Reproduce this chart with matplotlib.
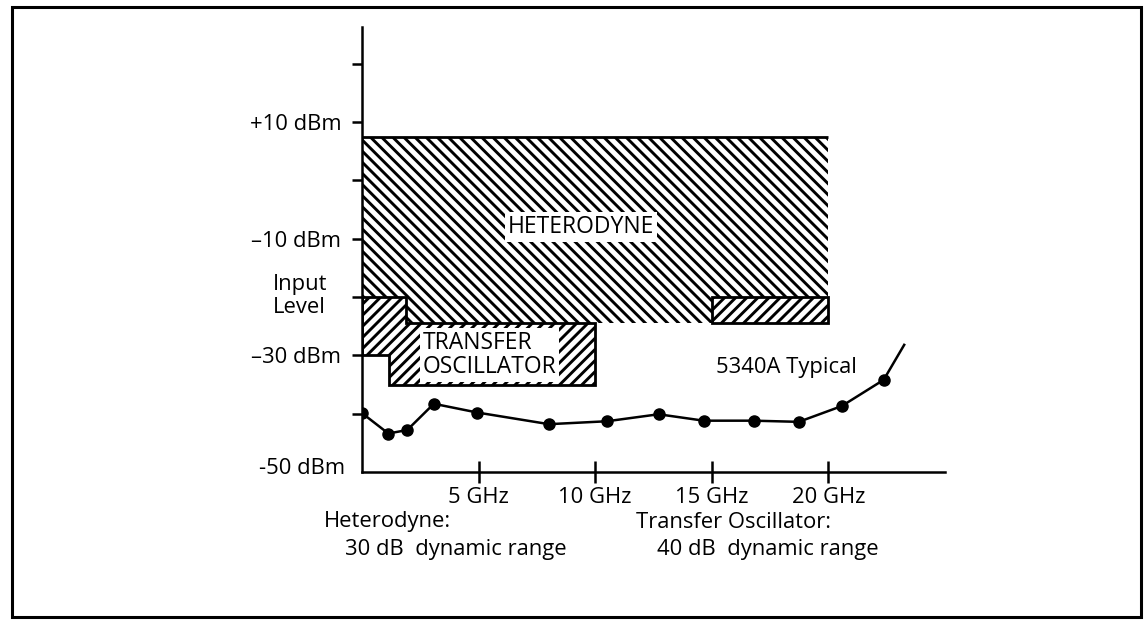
import matplotlib
matplotlib.use('Agg')
import matplotlib.pyplot as plt
from matplotlib.patches import Rectangle

plt.rcParams['font.family'] = ['Open Sans', 'DejaVu Sans']
plt.rcParams['hatch.linewidth'] = 2.1
plt.rcParams['hatch.color'] = 'black'

# ---- data ----
freq_ghz = [0, 1.13, 1.94, 3.08, 4.94, 8.02, 10.5, 12.72, 14.65, 16.79, 18.73, 20.57, 22.37]
sens_dbm = [-39.9, -43.4, -42.8, -38.3, -39.8, -41.8, -41.3, -40.1, -41.2, -41.2, -41.4, -38.7, -34.2]
trend_freq = [22.37, 23.25]
trend_dbm = [-34.2, -28.2]

het_freq = [0, 20, 20, 1.9, 1.9, 0]
het_level = [7.5, 7.5, -24.5, -24.5, -20, -20]
to_freq = [0, 1.9, 1.9, 10, 10, 1.15, 1.15, 0]
to_level = [-20, -20, -24.5, -24.5, -35, -35, -30, -30]
to_hi_freq = [15, 20, 20, 15]
to_hi_level = [-20, -20, -24.5, -24.5]

xticks = [5, 10, 15, 20]
xtick_labels = ['5 GHz', '10 GHz', '15 GHz', '20 GHz']
ytick_major = [10, -10, -30]
ytick_labels = ['+10 dBm', '\u201310 dBm', '\u201330 dBm']
ytick_minor = [20, 0, -20, -40]

W, H = 1147, 622
FS = 15.8

fig = plt.figure(figsize=(W / 100, H / 100), dpi=100)
ax = fig.add_axes([362 / W, (H - 472) / H, 583 / W, 445 / H])
ax.set_xlim(0, 25)
ax.set_ylim(-50, 26.3)

for s in ['top', 'right']:
    ax.spines[s].set_visible(False)
for s in ['left', 'bottom']:
    ax.spines[s].set_linewidth(1.8)
    ax.spines[s].set_capstyle('projecting')

ax.set_xticks(xticks)
ax.set_xticklabels(xtick_labels)
ax.set_yticks(ytick_major)
ax.set_yticklabels(ytick_labels)
ax.set_yticks(ytick_minor, minor=True)
ax.tick_params(axis='y', which='both', direction='out', length=7, width=1.8,
               labelsize=FS, pad=8)
ax.tick_params(axis='x', which='both', direction='inout', length=16, width=1.8,
               labelsize=FS, pad=3)

# heterodyne region
ax.fill(het_freq, het_level, facecolor='white', edgecolor='black', linewidth=0,
        hatch='\\\\\\', zorder=1)
ax.plot(het_freq[:2], het_level[:2], color='black', lw=2, zorder=3,
        solid_capstyle='butt')

# transfer oscillator regions
ax.fill(to_freq, to_level, facecolor='white', edgecolor='black', linewidth=2,
        hatch='///', joinstyle='miter', zorder=2)
ax.fill(to_hi_freq, to_hi_level, facecolor='white', edgecolor='black', linewidth=2,
        hatch='///', joinstyle='miter', zorder=2)

# typical sensitivity curve
ax.plot(freq_ghz, sens_dbm, color='black', lw=1.8, marker='o', markersize=8, zorder=5)
ax.plot(trend_freq, trend_dbm, color='black', lw=1.8, zorder=5)

# labels inside plot
ax.text(9.38, -8.0, 'HETERODYNE', fontsize=16.5, ha='center', va='center', zorder=4,
        bbox=dict(boxstyle='square,pad=0.12', facecolor='white', edgecolor='none'))
ax.text(2.6, -29.9, 'TRANSFER\nOSCILLATOR', fontsize=16.5, ha='left', va='center',
        linespacing=1.0, zorder=4,
        bbox=dict(boxstyle='square,pad=0.12', facecolor='white', edgecolor='none'))
ax.text(15.2, -32.0, '5340A Typical', fontsize=FS, ha='left', va='center', zorder=4)


def ftext(px, py, s, **kw):
    fig.text(px / W, 1 - py / H, s, fontsize=FS, **kw)


ftext(273, 296, 'Input\nLevel', ha='left', va='center', linespacing=1.1)
ftext(345, 468, '-50 dBm', ha='right', va='center')
ftext(324, 522, 'Heterodyne:', ha='left', va='center')
ftext(345, 549, '30 dB  dynamic range', ha='left', va='center')
ftext(636, 522, 'Transfer Oscillator:', ha='left', va='center')
ftext(657, 549, '40 dB  dynamic range', ha='left', va='center')

# outer frame
fig.add_artist(Rectangle((12 / W, 1 - 617 / H), (1141 - 12) / W, (617 - 7) / H,
                         fill=False, lw=2.2, edgecolor='black',
                         transform=fig.transFigure))

fig.savefig('out.png', dpi=100)
